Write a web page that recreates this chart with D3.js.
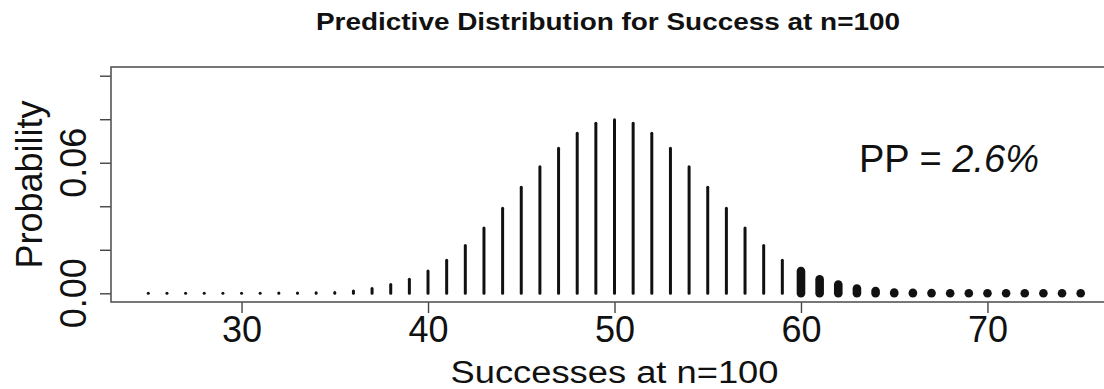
<!DOCTYPE html>
<html>
<head>
<meta charset="utf-8">
<script src="https://cdn.jsdelivr.net/npm/d3@7/dist/d3.min.js"></script>
<style>
  body { margin: 0; background: #fff; }
  text { font-family: 'Liberation Sans', Arial, Helvetica, sans-serif; fill: #111; }
  .axis line { stroke: #444; stroke-width: 1.4; }
  .axis path { display: none; }
</style>
</head>
<body>
<svg class="chart"></svg>
<script>
var successes = [25, 26, 27, 28, 29, 30, 31, 32, 33, 34, 35, 36, 37, 38, 39, 40, 41, 42, 43, 44, 45, 46, 47, 48, 49, 50,
  51, 52, 53, 54, 55, 56, 57, 58, 59, 60, 61, 62, 63, 64, 65, 66, 67, 68, 69, 70, 71, 72, 73, 74, 75];
var probability = [0, 0, 0, 0, 0, 0, 0, 0.0001, 0.0001, 0.0002, 0.0004, 0.0010, 0.0022, 0.0040, 0.0064, 0.0102,
  0.0152, 0.0220, 0.0300, 0.0391, 0.0487, 0.0582, 0.0667, 0.0736, 0.0782, 0.0798,
  0.0782, 0.0736, 0.0667, 0.0582, 0.0487, 0.0391, 0.0300, 0.0220, 0.0152, 0.0102,
  0.0064, 0.0040, 0.0022, 0.0010, 0.0004, 0.0002, 0.0001, 0, 0, 0, 0, 0, 0, 0, 0];
var xTicks = [30, 40, 50, 60, 70];
var yTicks = [0, 0.02, 0.04, 0.06, 0.08, 0.10];
var yLabels = [0, 0.06];
var ppCut = 60;
var ppValue = '2.6%';

var data = successes.map((s, i) => ({ s: s, p: probability[i] }));

var W = 1104, H = 389;
var margin = { top: 67, right: -14, bottom: 87, left: 111 };

var x = d3.scaleLinear().domain([23, 77]).range([margin.left, W - margin.right]);
var y = d3.scaleLinear().domain([-0.004, 0.104]).range([H - margin.bottom, margin.top]);

var svg = d3.select('.chart')
  .attr('width', W)
  .attr('height', H)
  .style('display', 'block');

svg.append('rect')
  .attr('width', W)
  .attr('height', H)
  .attr('fill', '#fff');

// title (the source image is stretched sideways, so fit it to its width)
svg.append('text')
  .attr('x', 608)
  .attr('y', 30)
  .attr('text-anchor', 'middle')
  .attr('textLength', 584)
  .attr('lengthAdjust', 'spacingAndGlyphs')
  .style('font-size', '23px')
  .style('font-weight', 'bold')
  .text('Predictive Distribution for Success at n=100');

// bars (type = "h"), tail beyond cut drawn thick
svg.append('g')
  .selectAll('line')
  .data(data)
  .enter().append('line')
  .attr('x1', d => x(d.s))
  .attr('x2', d => x(d.s))
  .attr('y1', y(0))
  .attr('y2', d => y(d.p))
  .attr('stroke', '#111')
  .attr('stroke-linecap', 'round')
  .attr('stroke-width', d => d.s >= ppCut ? 8.6 : 3);

// x axis
var xAxis = d3.axisBottom(x).tickValues(xTicks).tickSize(11).tickSizeOuter(0).tickPadding(3.5);
var gx = svg.append('g')
  .attr('class', 'x axis')
  .attr('transform', 'translate(0,' + y.range()[0] + ')')
  .call(xAxis);
gx.selectAll('text').style('font-size', '36px').attr('fill', '#111');

// y axis: ticks everywhere, labels only where R kept them
var yAxis = d3.axisLeft(y).tickValues(yTicks).tickSize(11).tickSizeOuter(0).tickFormat('');
svg.append('g')
  .attr('class', 'y axis')
  .attr('transform', 'translate(' + x.range()[0] + ',0)')
  .call(yAxis);

svg.append('g')
  .selectAll('text')
  .data(yLabels)
  .enter().append('text')
  .attr('transform', d => 'translate(86,' + y(d) + ') rotate(-90)')
  .attr('text-anchor', 'middle')
  .style('font-size', '36px')
  .text(d => d3.format('.2f')(d));

// box
svg.append('rect')
  .attr('x', x.range()[0])
  .attr('y', y.range()[1])
  .attr('width', x.range()[1] - x.range()[0])
  .attr('height', y.range()[0] - y.range()[1])
  .attr('fill', 'none')
  .attr('stroke', '#555')
  .attr('stroke-width', 1.6);

// axis titles
svg.append('text')
  .attr('x', x(50))
  .attr('y', 383)
  .attr('text-anchor', 'middle')
  .attr('textLength', 328)
  .attr('lengthAdjust', 'spacingAndGlyphs')
  .style('font-size', '31px')
  .text('Successes at n=100');

svg.append('text')
  .attr('transform', 'translate(42,' + (y.range()[0] + y.range()[1]) / 2 + ') rotate(-90)')
  .attr('text-anchor', 'middle')
  .style('font-size', '36px')
  .text('Probability');

// PP annotation
var pp = svg.append('text')
  .attr('x', 859)
  .attr('y', 172)
  .style('font-size', '38px');
pp.append('tspan').text('PP = ');
pp.append('tspan').style('font-style', 'italic').text(ppValue);
</script>
</body>
</html>
